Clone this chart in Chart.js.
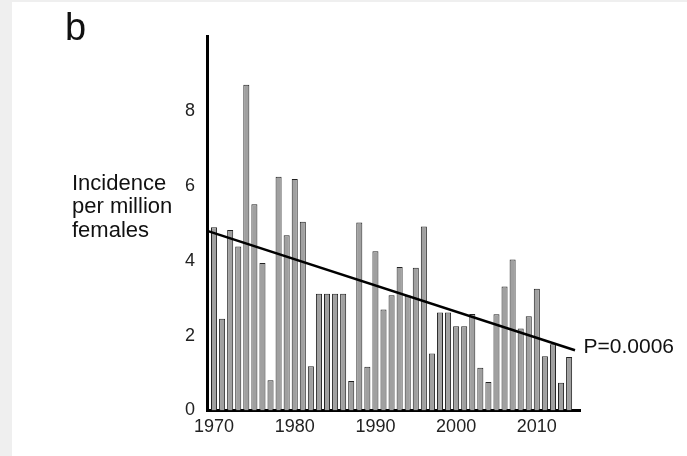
<!DOCTYPE html>
<html>
<head>
<meta charset="utf-8">
<script src="https://cdn.jsdelivr.net/npm/chart.js@4/dist/chart.umd.min.js"></script>
<style>
  html, body { margin: 0; padding: 0; background: #efefef; }
  #panel { position: absolute; left: 12px; top: 2px; width: 675px; height: 454px; background: #ffffff; }
  #wrap { position: absolute; left: 0; top: 0; width: 687px; height: 456px; }
  .lbl { position: absolute; font-family: "Liberation Sans", Arial, sans-serif; color: #111; white-space: nowrap; }
  #panelLetter { left: 65px; top: 8px; font-size: 38px; line-height: 38px; }
  #ytitle { left: 72px; top: 171px; font-size: 22px; line-height: 23.4px; }
</style>
</head>
<body>
<div id="panel"></div>
<div id="wrap"><canvas id="c" width="687" height="456"></canvas></div>
<div class="lbl" id="panelLetter">b</div>
<div class="lbl" id="ytitle">Incidence<br>per million<br>females</div>
<script>
// Annual incidence per million females
const years = [
  1970, 1971, 1972, 1973, 1974, 1975, 1976, 1977, 1978, 1979,
  1980, 1981, 1982, 1983, 1984, 1985, 1986, 1987, 1988, 1989,
  1990, 1991, 1992, 1993, 1994, 1995, 1996, 1997, 1998, 1999,
  2000, 2001, 2002, 2003, 2004, 2005, 2006, 2007, 2008, 2009,
  2010, 2011, 2012, 2013, 2014
];
const incidence = [
  4.89, 2.45, 4.82, 4.38, 8.70, 5.51, 3.94, 0.81, 6.24, 4.68,
  6.18, 5.04, 1.18, 3.12, 3.12, 3.12, 3.12, 0.79, 5.02, 1.17,
  4.25, 2.70, 3.08, 3.83, 3.07, 3.81, 4.91, 1.52, 2.62, 2.62,
  2.25, 2.25, 2.58, 1.14, 0.76, 2.57, 3.31, 4.03, 2.19, 2.52,
  3.25, 1.45, 1.77, 0.74, 1.43
];
const xTickYears = [1970, 1980, 1990, 2000, 2010];
const yTickValues = [0, 2, 4, 6, 8];

// Linear trend endpoints and its significance
const trendYears = [1969.26, 2014.73];
const trendValues = [4.79, 1.61];
const trendLabel = 'P=0.0006';

const FONT = '"Liberation Sans", Arial, sans-serif';

const barPoints = years.map((yr, i) => ({ x: yr, y: incidence[i] }));
const trendPoints = trendYears.map((yr, i) => ({ x: yr, y: trendValues[i] }));

// Writes the P value just past the right end of the trend line
const trendLabelPlugin = {
  id: 'trendLabel',
  afterDatasetsDraw(chart) {
    const meta = chart.getDatasetMeta(0);
    const last = meta.data[meta.data.length - 1];
    const ctx = chart.ctx;
    ctx.save();
    ctx.font = '21px ' + FONT;
    ctx.fillStyle = '#111';
    ctx.textAlign = 'left';
    ctx.textBaseline = 'middle';
    ctx.fillText(trendLabel, last.x + 8.5, last.y - 3.5);
    ctx.restore();
  }
};

new Chart(document.getElementById('c'), {
  type: 'bar',
  data: {
    datasets: [
      {
        type: 'line',
        data: trendPoints,
        borderColor: '#000',
        borderWidth: 2.5,
        pointRadius: 0,
        fill: false,
        order: 0
      },
      {
        type: 'bar',
        data: barPoints,
        backgroundColor: '#a0a0a0',
        borderColor: '#222',
        borderWidth: 1,
        barPercentage: 0.75,
        categoryPercentage: 1.0,
        order: 1
      }
    ]
  },
  options: {
    responsive: false,
    devicePixelRatio: 1,
    animation: false,
    layout: { padding: { top: 36, right: 107, bottom: 15.5, left: 0 } },
    plugins: { legend: { display: false }, tooltip: { enabled: false } },
    scales: {
      x: {
        type: 'linear',
        offset: false,
        min: 1969.19,
        max: 2015.35,
        grid: { display: false, drawTicks: false, offset: false },
        border: { display: true, color: '#000', width: 3 },
        ticks: {
          font: { family: FONT, size: 18 }, color: '#222', padding: 6, maxRotation: 0,
          callback: (v) => String(v)
        },
        afterBuildTicks: (s) => { s.ticks = xTickYears.map(v => ({ value: v })); },
        afterFit: (s) => { s.height = 30; }
      },
      y: {
        min: 0,
        max: 10,
        grid: { display: false, drawTicks: false },
        border: { display: true, color: '#000', width: 3 },
        ticks: { font: { family: FONT, size: 18 }, color: '#222', padding: 12.5 },
        afterBuildTicks: (s) => { s.ticks = yTickValues.map(v => ({ value: v })); },
        afterFit: (s) => { s.width = 207.5; }
      }
    }
  },
  plugins: [trendLabelPlugin]
});
</script>
</body>
</html>
